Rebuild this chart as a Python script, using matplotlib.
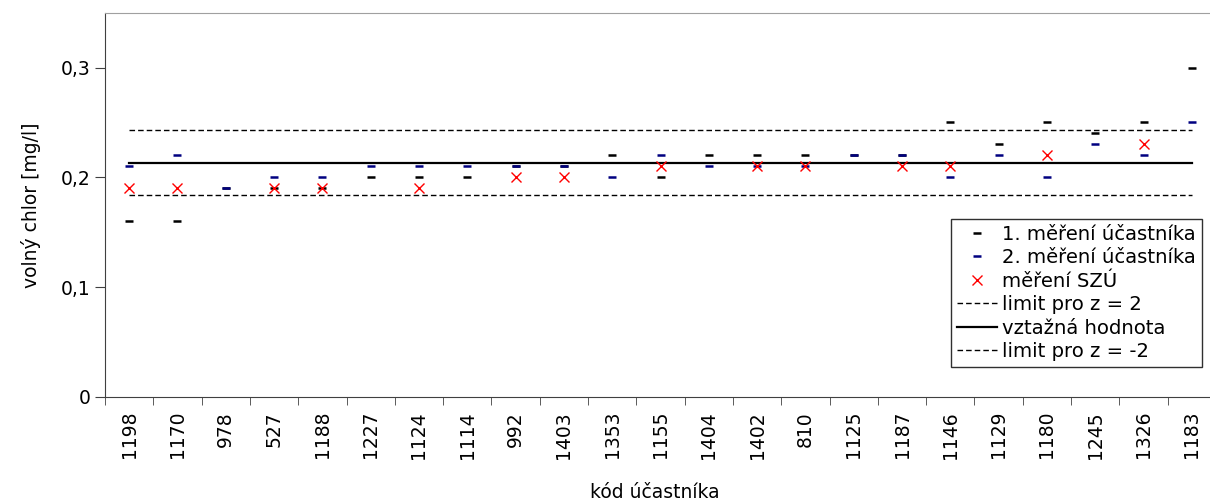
import numpy as np
import matplotlib
matplotlib.use('Agg')
import matplotlib.pyplot as plt

codes = ['1198', '1170', '978', '527', '1188', '1227', '1124', '1114', '992', '1403', '1353', '1155',
         '1404', '1402', '810', '1125', '1187', '1146', '1129', '1180', '1245', '1326', '1183']
mereni_1 = [0.16, 0.16, 0.19, 0.19, 0.19, 0.20, 0.20, 0.20, 0.21, 0.21, 0.22, 0.20,
            0.22, 0.22, 0.22, 0.22, 0.22, 0.25, 0.23, 0.25, 0.24, 0.25, 0.30]
mereni_2 = [0.21, 0.22, 0.19, 0.20, 0.20, 0.21, 0.21, 0.21, 0.21, 0.21, 0.20, 0.22,
            0.21, 0.21, 0.21, 0.22, 0.22, 0.20, 0.22, 0.20, 0.23, 0.22, 0.25]
mereni_szu = [0.19, 0.19, np.nan, 0.19, 0.19, np.nan, 0.19, np.nan, 0.20, 0.20, np.nan, 0.21,
              np.nan, 0.21, 0.21, np.nan, 0.21, 0.21, np.nan, 0.22, np.nan, 0.23, np.nan]
vztazna = 0.213
limit_horni = 0.243
limit_dolni = 0.184

plt.rcParams['font.family'] = ['DejaVu Sans']
fs = 13.5

fig = plt.figure(figsize=(12.1, 5.04), dpi=100)
ax = fig.add_axes([105 / 1210, 1 - 397 / 504, 1111 / 1210, (397 - 12.7) / 504])

x = np.arange(len(codes))
n = len(codes)
ax.plot(x, mereni_1, linestyle='none', marker='_', color='black', markersize=6, mew=1.8,
        label='1. měření účastníka')
ax.plot(x, mereni_2, linestyle='none', marker='_', color='#000080', markersize=6, mew=1.8,
        label='2. měření účastníka')
ax.plot(x, mereni_szu, linestyle='none', marker='x', color='red', markersize=7.5, mew=1,
        label='měření SZÚ')
ax.plot(x, [limit_horni] * n, color='black', lw=1, dashes=(4, 2.2), label='limit pro z = 2')
ax.plot(x, [vztazna] * n, color='black', lw=1.6, label='vztažná hodnota', zorder=1)
ax.plot(x, [limit_dolni] * n, color='black', lw=1, dashes=(4, 2.2), label='limit pro z = -2')

ax.set_xlim(-0.5, n - 0.5)
ax.set_ylim(0, 0.35)
ax.set_yticks([0, 0.1, 0.2, 0.3])
ax.set_yticklabels(['0', '0,1', '0,2', '0,3'], fontsize=fs)
ax.set_xticks(x)
ax.set_xticklabels(codes, rotation=90, fontsize=fs)
ax.set_xticks(np.arange(n + 1) - 0.5, minor=True)
ax.tick_params(axis='x', which='major', length=0, pad=10)
ax.tick_params(axis='x', which='minor', length=6, direction='out', color='#404040')
ax.tick_params(axis='y', length=7, direction='out', color='#404040')

for side in ['left', 'bottom']:
    ax.spines[side].set_color('#404040')
ax.spines['top'].set_color('#a0a0a0')
ax.spines['right'].set_visible(False)

ax.set_ylabel('volný chlor [mg/l]', fontsize=fs, labelpad=14)
fig.text(655 / 1210, 1 - 492 / 504, 'kód účastníka', fontsize=fs, ha='center', va='center')

leg = ax.legend(loc='lower right', bbox_to_anchor=(1202 / 1210, 1 - 367 / 504),
                bbox_transform=fig.transFigure, fontsize=14.1, frameon=True, fancybox=False,
                edgecolor='#303030', framealpha=1, labelspacing=0.23, handlelength=2.0,
                handletextpad=0.3, borderpad=0.3, borderaxespad=0)
leg.get_frame().set_linewidth(1)

fig.savefig('out.png', dpi=100)
